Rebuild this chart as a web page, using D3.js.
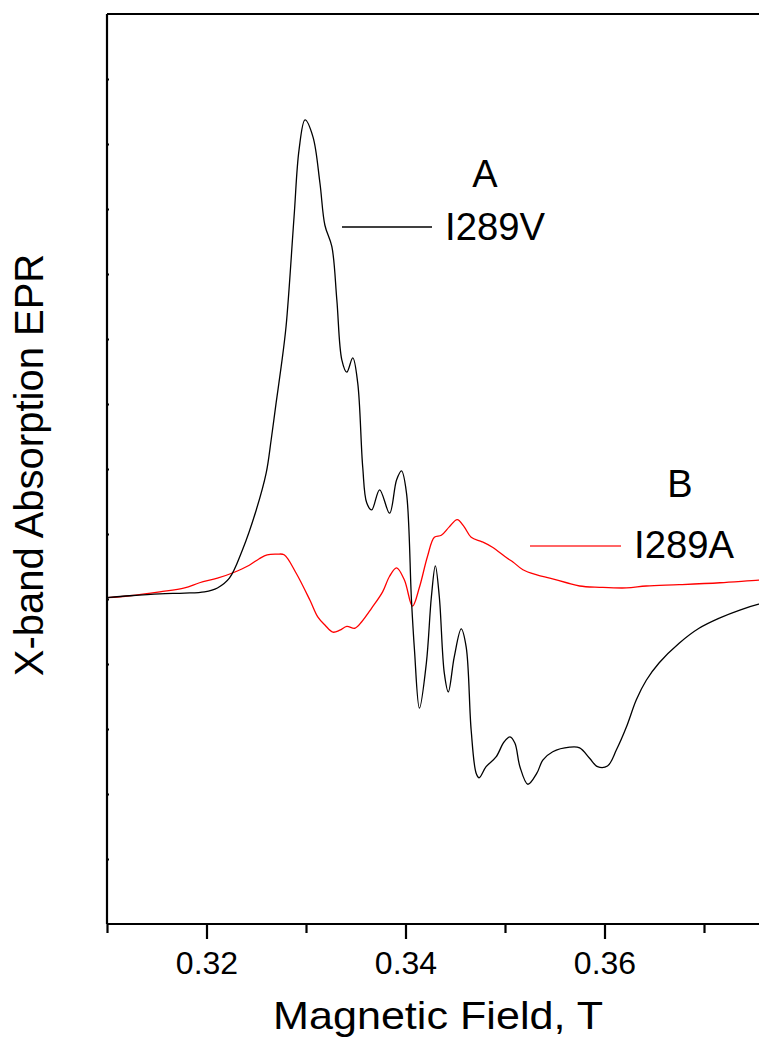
<!DOCTYPE html>
<html lang="en">
<head>
    <meta charset="UTF-8">
    <title>X-band EPR</title>
    <script src="https://cdn.jsdelivr.net/npm/d3@7"></script>
    <style>
        body { margin: 0; background: #fff; overflow: hidden; }
        text { font-family: "Liberation Sans", Arial, sans-serif; fill: #000; }
        .trace { fill: none; stroke-width: 1.3px; stroke-linejoin: round; }
    </style>
</head>
<body>
    <div id="chart"></div>
    <script>
        // spectra: field in tesla, signal in arbitrary units
        const i289vField = [0.3100, 0.3123, 0.3153, 0.3178, 0.3198, 0.3211, 0.3223, 0.3236, 0.3250, 0.3260,
            0.3265, 0.3270, 0.3275, 0.3280, 0.3288, 0.3293, 0.3299, 0.3307, 0.3314, 0.3319, 0.3326, 0.3331,
            0.3336, 0.3341, 0.3347, 0.3352, 0.3357, 0.3361, 0.3366, 0.3374, 0.3384, 0.3391,
            0.3396, 0.3401, 0.3406, 0.3409, 0.3414, 0.3421, 0.3426, 0.3430, 0.3434, 0.3439,
            0.3443, 0.3449, 0.3456, 0.3461, 0.3466, 0.3471, 0.3474, 0.3481, 0.3491, 0.3499,
            0.3505, 0.3510, 0.3515, 0.3523, 0.3532, 0.3538, 0.3548, 0.3565, 0.3575, 0.3585,
            0.3593, 0.3603, 0.3612, 0.3622, 0.3632, 0.3642, 0.3655, 0.3675, 0.3695, 0.3716,
            0.3736, 0.3755, 0.3780];
        const i289vSignal = [5.02, 5.05, 5.08, 5.09, 5.11, 5.17, 5.32, 5.75, 6.37, 6.94,
            7.45, 8.02, 8.57, 9.20, 10.88, 11.91, 12.37, 12.11, 11.40, 10.75, 10.42, 9.60,
            8.68, 8.49, 8.71, 8.32, 7.03, 6.48, 6.37, 6.68, 6.32, 6.83,
            6.97, 6.63, 4.98, 4.22, 3.32, 4.02, 5.03, 5.51, 5.03, 3.86,
            3.57, 4.11, 4.54, 4.26, 2.98, 2.32, 2.25, 2.42, 2.57, 2.80,
            2.88, 2.78, 2.42, 2.15, 2.32, 2.52, 2.65, 2.72, 2.71, 2.55,
            2.42, 2.43, 2.68, 3.03, 3.45, 3.75, 4.02, 4.32, 4.55, 4.71,
            4.83, 4.92, 5.00];

        const i289aField = [0.3100, 0.3123, 0.3153, 0.3178, 0.3193, 0.3211, 0.3226, 0.3243, 0.3253, 0.3261,
            0.3271, 0.3278, 0.3290, 0.3304, 0.3312, 0.3319, 0.3327, 0.3334, 0.3341, 0.3349,
            0.3356, 0.3366, 0.3377, 0.3384, 0.3391, 0.3399, 0.3407, 0.3414, 0.3422, 0.3429,
            0.3436, 0.3444, 0.3452, 0.3459, 0.3466, 0.3477, 0.3487, 0.3502, 0.3508, 0.3518,
            0.3532, 0.3545, 0.3562, 0.3575, 0.3595, 0.3622, 0.3642, 0.3675, 0.3716, 0.3755,
            0.3780];
        const i289aSignal = [5.02, 5.05, 5.11, 5.17, 5.25, 5.32, 5.40, 5.52, 5.62, 5.68,
            5.69, 5.68, 5.40, 4.98, 4.72, 4.60, 4.49, 4.52, 4.58, 4.55,
            4.65, 4.86, 5.11, 5.35, 5.48, 5.29, 4.89, 5.18, 5.65, 5.95,
            5.98, 6.11, 6.22, 6.11, 5.95, 5.88, 5.80, 5.63, 5.57, 5.45,
            5.37, 5.32, 5.25, 5.20, 5.18, 5.17, 5.20, 5.22, 5.25, 5.29,
            5.31];

        const xMajorTicks = [0.32, 0.34, 0.36];
        const xMajorLabels = ["0.32", "0.34", "0.36"];
        const xMinorTicks = [0.31, 0.33, 0.35, 0.37];
        const yTicks = [1, 2, 3, 4, 5, 6, 7, 8, 9, 10, 11, 12, 13];

        const width = 759, height = 1040;
        const plotLeft = 107, plotTop = 14, plotBottom = 924;

        const svg = d3.select("#chart").append("svg")
            .attr("width", width)
            .attr("height", height);

        // the plot box runs past the right edge of the picture, as in the original
        const x = d3.scaleLinear().domain([0.31, 0.38]).range([plotLeft, plotLeft + 0.07 * 9950]);
        const y = d3.scaleLinear().domain([0, 14]).range([plotBottom, plotTop]);

        const toPoints = (fx, fy) => fx.map((f, i) => [f, fy[i]]);
        const line = d3.line()
            .x(d => x(d[0]))
            .y(d => y(d[1]))
            .curve(d3.curveCatmullRom.alpha(0.5));

        svg.append("path").classed("trace", true)
            .attr("d", line(toPoints(i289aField, i289aSignal)))
            .style("stroke", "#ff0000");
        svg.append("path").classed("trace", true)
            .attr("d", line(toPoints(i289vField, i289vSignal)))
            .style("stroke", "#000");

        // frame: left and top (bottom comes with the x axis)
        const frame = svg.append("g").attr("stroke", "#000").attr("stroke-width", 2.2);
        frame.append("line").attr("x1", plotLeft).attr("x2", plotLeft).attr("y1", plotTop).attr("y2", plotBottom);
        frame.append("line").attr("x1", plotLeft).attr("x2", width).attr("y1", plotTop).attr("y2", plotTop);

        // y axis: only small unlabeled ticks
        svg.append("g")
            .attr("transform", `translate(${plotLeft},0)`)
            .call(d3.axisLeft(y).tickValues(yTicks).tickSize(2).tickFormat(""))
            .call(g => g.select(".domain").remove())
            .call(g => g.selectAll("line").attr("stroke-width", 2.2).attr("x2", 2));

        // x axis major and minor ticks
        const xAxis = svg.append("g").attr("transform", `translate(0,${plotBottom})`);
        xAxis.call(d3.axisBottom(x).tickValues(xMajorTicks).tickSize(15)
                .tickFormat((d, i) => xMajorLabels[i]))
            .call(g => g.select(".domain").attr("d", `M${plotLeft},0H${width}`).attr("stroke-width", 2.2))
            .call(g => g.selectAll(".tick line").attr("stroke-width", 2.2))
            .call(g => g.selectAll(".tick text")
                .attr("y", 50).attr("dy", 0)
                .style("font-size", "32px")
                .style("font-family", "'Liberation Sans', Arial, sans-serif"));
        xAxis.append("g")
            .call(d3.axisBottom(x).tickValues(xMinorTicks).tickSize(9).tickFormat(""))
            .call(g => g.select(".domain").remove())
            .call(g => g.selectAll("line").attr("stroke-width", 2.2));

        // axis titles
        svg.append("text")
            .attr("x", 273).attr("y", 1029)
            .attr("textLength", 330).attr("lengthAdjust", "spacingAndGlyphs")
            .style("font-size", "39px")
            .text("Magnetic Field, T");

        svg.append("text")
            .attr("transform", "translate(43,465) rotate(-90)")
            .attr("text-anchor", "middle")
            .style("font-size", "40px")
            .text("X-band Absorption EPR");

        // trace labels with their legend lines
        const labels = [
            { letter: "A", name: "I289V", color: "#000", lx: 485, ly: 187, nx: 445, ny: 240, x1: 342, x2: 432, sy: 227 },
            { letter: "B", name: "I289A", color: "#ff3333", lx: 680, ly: 497, nx: 634, ny: 558, x1: 530, x2: 621, sy: 546 }
        ];
        labels.forEach(l => {
            svg.append("text").attr("x", l.lx).attr("y", l.ly)
                .attr("text-anchor", "middle").style("font-size", "38px").text(l.letter);
            svg.append("line").attr("x1", l.x1).attr("x2", l.x2).attr("y1", l.sy).attr("y2", l.sy)
                .attr("stroke", l.color).attr("stroke-width", 1.3);
            svg.append("text").attr("x", l.nx).attr("y", l.ny)
                .attr("textLength", 100).attr("lengthAdjust", "spacingAndGlyphs")
                .style("font-size", "38px").text(l.name);
        });
    </script>
</body>
</html>
